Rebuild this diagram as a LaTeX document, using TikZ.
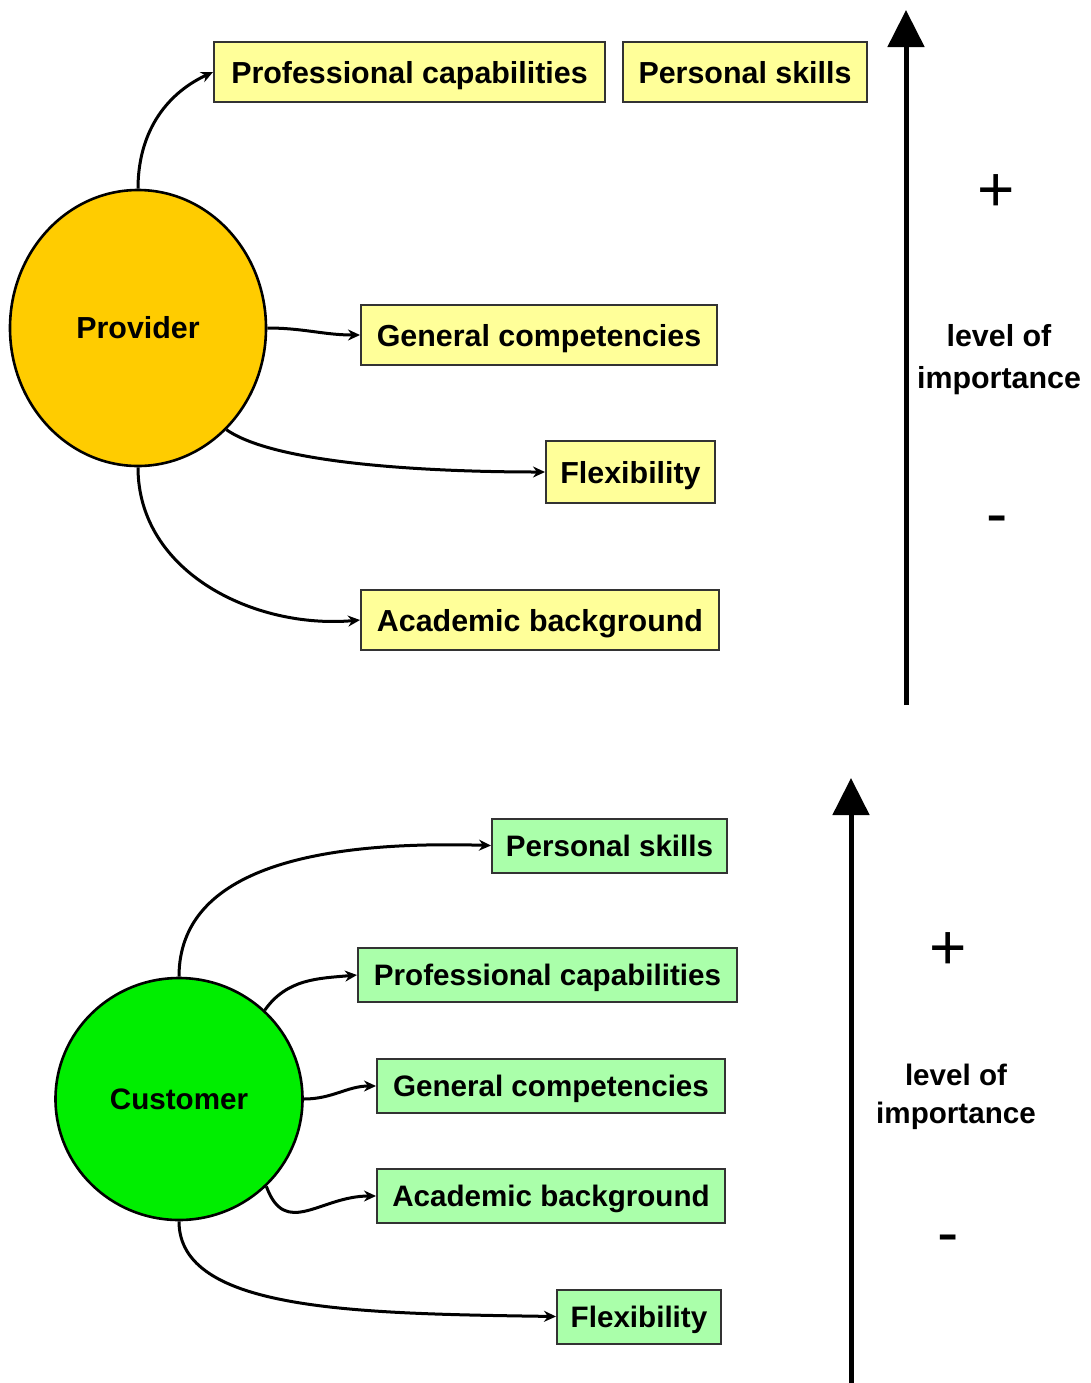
\documentclass[tikz,border=0pt]{standalone}
\usepackage{fontspec}
\setmainfont{Liberation Sans}
\usetikzlibrary{arrows.meta,shapes.geometric}
\definecolor{boxyellow}{HTML}{FFFF99}
\definecolor{boxgreen}{HTML}{AAFFAA}
\definecolor{provfill}{HTML}{FFCC00}
\definecolor{custfill}{HTML}{00EE00}
\definecolor{boxline}{HTML}{333333}
\begin{document}
\begin{tikzpicture}[x=0.5pt,y=-0.5pt,
  item/.style={draw=boxline, line width=1pt, inner sep=0pt, text depth=0pt},
  itemY/.style={item, fill=boxyellow, minimum height=30pt, text height=11pt, font=\bfseries\fontsize{15.2}{18}\selectfont},
  itemG/.style={item, fill=boxgreen, minimum height=27pt, text height=10.6pt, font=\bfseries\fontsize{14.8}{18}\selectfont},
  actor/.style={ellipse, draw=black, line width=1.3pt, inner sep=0pt},
  link/.style={line width=1.5pt, -{Stealth[length=6pt,width=5.5pt]}},
  scaleaxis/.style={line width=2.5pt, -{Triangle[length=18.5pt,width=18pt]}},
  sign/.style={font=\fontsize{32}{36}\selectfont, inner sep=0pt},
  axislabel/.style={align=center, inner sep=0pt}
]
\useasboundingbox (0,0) rectangle (1091,1383);

% ---------- Provider ----------
\node[actor, fill=provfill, minimum width=128pt, minimum height=138pt,
      font=\bfseries\fontsize{15.2}{18}\selectfont] (prov) at (138,328) {Provider};

\node[itemY, minimum width=195.5pt] (pcT) at (409.5,72)  {Professional capabilities};
\node[itemY, minimum width=122pt]   (psT) at (745,72)    {Personal skills};
\node[itemY, minimum width=178pt]   (gcT) at (539,335)   {General competencies};
\node[itemY, minimum width=84.5pt, minimum height=31pt] (flT) at (630.5,472) {Flexibility};
\node[itemY, minimum width=179pt]   (abT) at (540,620)   {Academic background};

\draw[link] (prov.north) to[out=90,in=205] (pcT.west);
\draw[link] (prov.east) to[out=0,in=180] (gcT.west);
\draw[link] (prov.-49) to[out=-35,in=180,looseness=0.55] (flT.west);
\draw[link] (prov.south) to[out=-90,in=185] (abT.west);

\coordinate (axTlow) at (906,705);
\coordinate (axThigh) at (906,10);
\draw[scaleaxis] (axTlow) -- (axThigh);
\node[sign] (plusT) at (996,193) {+};
\node[axislabel, font=\bfseries\fontsize{15.2}{21}\selectfont] (lvlT) at (999,360) {level of\\importance};
\node[sign] (minusT) at (997,526) {-};

% ---------- Customer ----------
\node[actor, fill=custfill, minimum width=123.5pt, minimum height=121pt,
      font=\bfseries\fontsize{14.8}{18}\selectfont] (cust) at (179,1099) {Customer};

\node[itemG, minimum width=117.5pt] (psB) at (609.5,845.5) {Personal skills};
\node[itemG, minimum width=189.5pt] (pcB) at (547.5,975)   {Professional capabilities};
\node[itemG, minimum width=174pt]   (gcB) at (551,1086)    {General competencies};
\node[itemG, minimum width=174pt]   (abB) at (551,1196)    {Academic background};
\node[itemG, minimum width=82pt]    (flB) at (639,1316.5)  {Flexibility};

\draw[link] (cust.north) .. controls +(0,-110) and +(-170,-5) .. (psB.west);
\draw[link] (cust.46) to[out=55,in=185] (pcB.west);
\draw[link] (cust.east) to[out=0,in=180] (gcB.west);
\draw[link] (cust.-45) to[out=-70,in=180,looseness=1.3] (abB.west);
\draw[link] (cust.south) .. controls +(0,90) and +(-200,-3) .. (flB.west);

\coordinate (axBlow) at (851,1383);
\coordinate (axBhigh) at (851,778);
\draw[scaleaxis] (axBlow) -- (axBhigh);
\node[sign] (plusB) at (948,951) {+};
\node[axislabel, font=\bfseries\fontsize{14.8}{19}\selectfont] (lvlB) at (956,1097) {level of\\importance};
\node[sign] (minusB) at (948,1245) {-};
\end{tikzpicture}
\end{document}
